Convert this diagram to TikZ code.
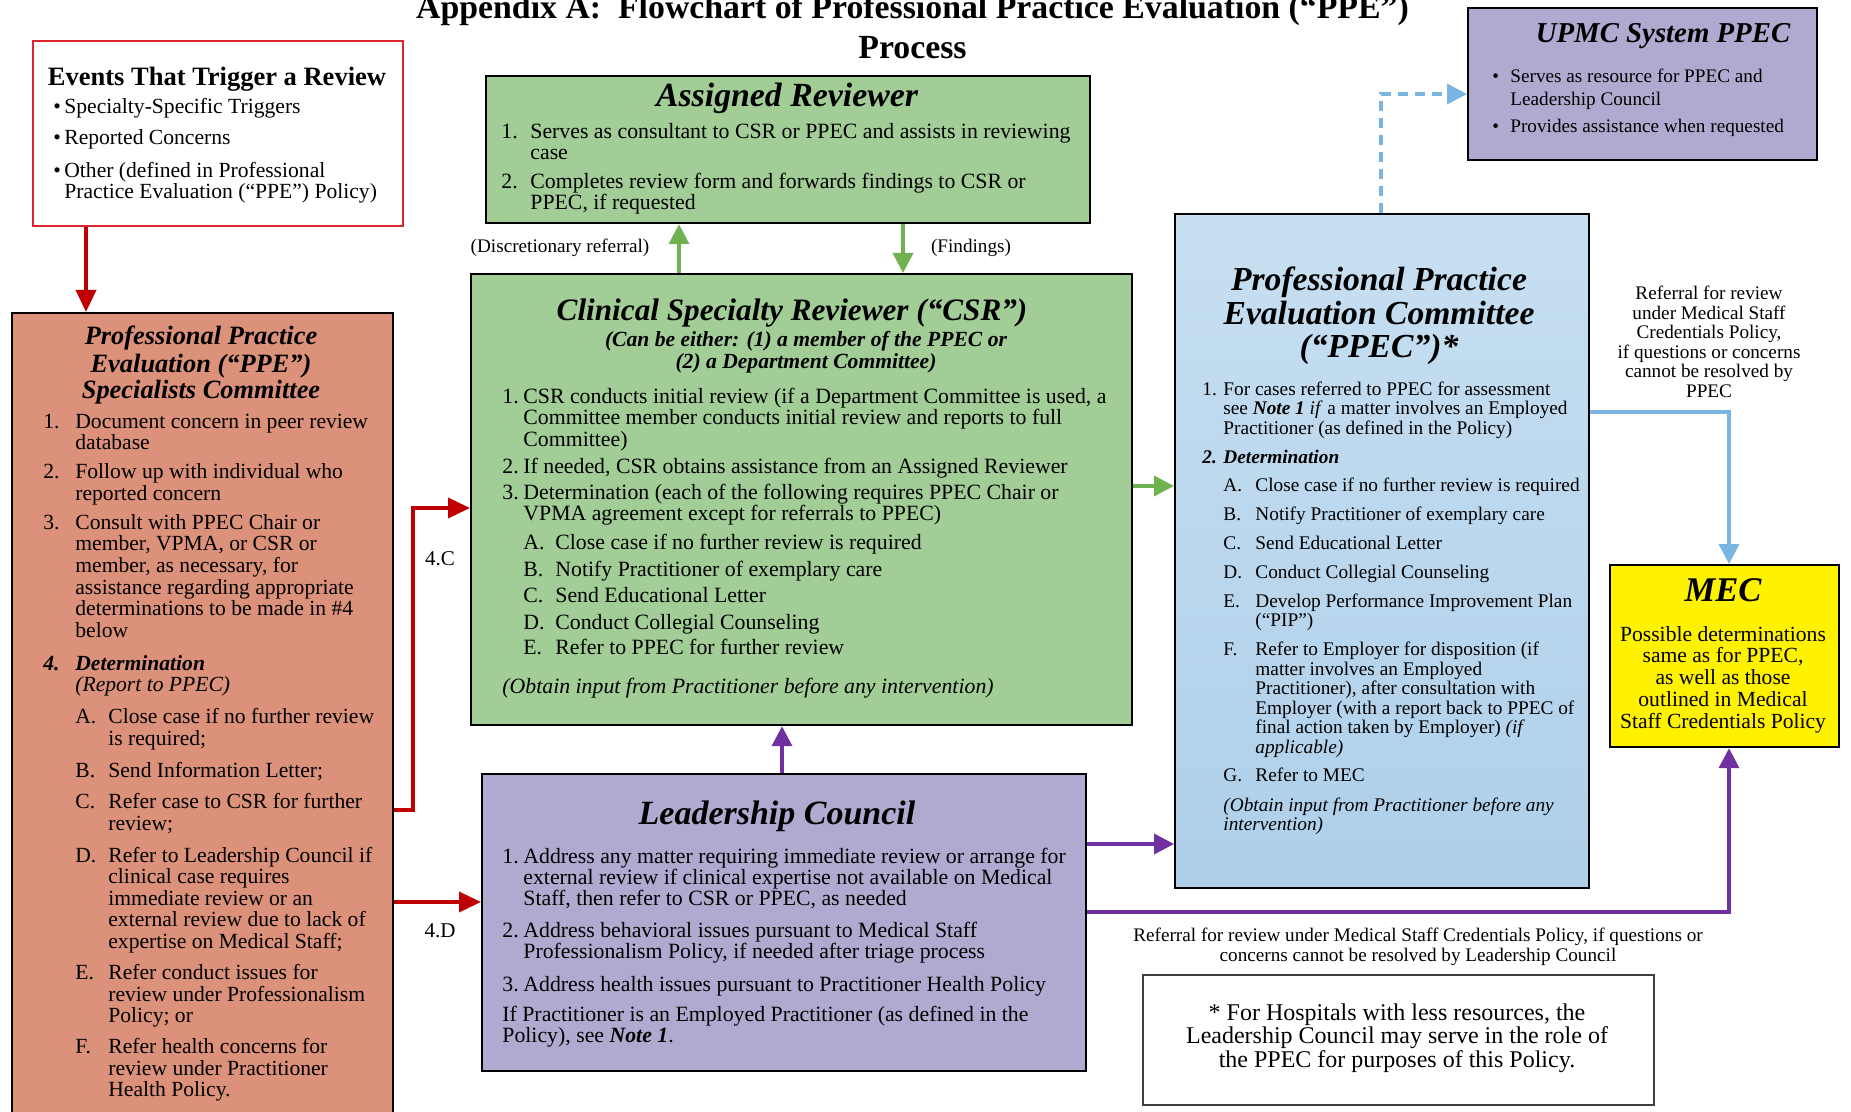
\documentclass[tikz,border=0pt]{standalone}
\usepackage{fontspec}
\setmainfont{Liberation Serif}
\usetikzlibrary{arrows.meta}
\definecolor{salmon}{RGB}{219,145,122}
\definecolor{csrgreen}{RGB}{162,205,151}
\definecolor{lpurple}{RGB}{177,170,208}
\definecolor{bluetop}{RGB}{199,223,241}
\definecolor{bluebot}{RGB}{174,207,234}
\definecolor{myred}{RGB}{192,0,0}
\definecolor{evred}{RGB}{218,38,46}
\definecolor{grn}{RGB}{112,178,80}
\definecolor{purp}{RGB}{112,48,160}
\definecolor{lblue}{RGB}{122,180,224}
\definecolor{notegray}{RGB}{64,64,64}
\newcommand\fsz[2]{\fontsize{#1}{#2}\selectfont}
\newcommand\bitext[1]{\textbf{\textit{#1}}}
\newcommand\Itm[4]{\par\ifx\relax#1\relax\else\vspace{#1}\fi\noindent\hangindent=#2\relax\hangafter=1\relax\makebox[#2][l]{#3}#4\par}
\newcommand\SubItm[5]{{\leftskip=#2\relax\Itm{#1}{#3}{#4}{#5}}}
\newcommand\blk[4]{\parbox[t]{#1}{\fsz{#2}{#3}\lineskiplimit=-20pt\relax#4}}
\newcommand\ctrtext[4]{{\fsz{#1}{#2}#3\begin{tabular}[t]{@{}c@{}}#4\end{tabular}}}
\tikzset{
  box/.style={draw=black, line width=1.1pt, inner sep=0pt, anchor=north west},
  txt/.style={inner sep=0pt, anchor=base west},
  ctr/.style={inner sep=0pt, anchor=base},
  redarr/.style={draw=myred, line width=1.8pt, -{Triangle[length=11pt,width=10pt]}},
  grnarr/.style={draw=grn, line width=1.8pt, -{Triangle[length=10pt,width=10pt]}},
  purarr/.style={draw=purp, line width=1.8pt, -{Triangle[length=10pt,width=10pt]}},
  bluarr/.style={draw=lblue, line width=1.8pt, -{Triangle[length=10pt,width=10pt]}},
}
\begin{document}
\begin{tikzpicture}[x=0.5pt,y=-0.5pt]
\useasboundingbox (0,0) rectangle (1851,1112);
\fill[white] (0,0) rectangle (1851,1112);

% ---------- boxes ----------
\node[box, draw=evred, fill=white, minimum width=185pt, minimum height=92.5pt] (events) at (32,40) {};
\node[box, fill=salmon, minimum width=190.5pt, minimum height=410pt] (ppe) at (11,312) {};
\node[box, fill=csrgreen, minimum width=302pt, minimum height=73.5pt] (assigned) at (485,75) {};
\node[box, fill=csrgreen, minimum width=330.5pt, minimum height=225.5pt] (csr) at (470,273) {};
\node[box, top color=bluetop, bottom color=bluebot, minimum width=207pt, minimum height=337pt] (ppec) at (1174,213) {};
\node[box, fill=lpurple, minimum width=302pt, minimum height=148.5pt] (lc) at (481,773) {};
\node[box, fill=lpurple, minimum width=174.5pt, minimum height=76pt] (upmc) at (1467,7) {};
\node[box, fill=yellow, minimum width=114.5pt, minimum height=91pt] (mec) at (1609,564) {};
\node[box, draw=notegray, fill=white, minimum width=255.5pt, minimum height=65pt] (note) at (1142,974) {};

% ---------- title ----------
\node[ctr] (title) at (912.5,19) {\ctrtext{16.9}{20}{\bfseries}{Appendix A:\ \ Flowchart of Professional Practice Evaluation (“PPE”)\\Process}};

% ---------- events ----------
\node[ctr] (evtitle) at (217,86) {\ctrtext{13.25}{14}{\bfseries}{Events That Trigger a Review}};
\node[txt] (evlist) at (53,114) {\blk{172pt}{10.8}{10.5}{%
\Itm{}{5.5pt}{•}{Specialty-Specific Triggers}
\Itm{5pt}{5.5pt}{•}{Reported Concerns}
\Itm{6pt}{5.5pt}{•}{Other (defined in Professional\\Practice Evaluation (“PPE”) Policy)}}};

% ---------- PPE specialists ----------
\node[ctr] (ppetitle) at (201,345) {\ctrtext{13.2}{13.5}{\bfseries\itshape}{Professional Practice\\Evaluation (“PPE”)\\Specialists Committee}};
\node[txt] (ppelist) at (43,428) {\blk{172pt}{10.8}{10.8}{%
\Itm{}{16pt}{1.}{Document concern in peer review\\database}
\Itm{3.7pt}{16pt}{2.}{Follow up with individual who\\reported concern}
\Itm{3.7pt}{16pt}{3.}{Consult with PPEC Chair or\\member, VPMA, or CSR or\\member, as necessary, for\\assistance regarding appropriate\\determinations to be made in \#4\\below}
\Itm{5.7pt}{16pt}{\bitext{4.}}{\bitext{Determination}\\\textit{(Report to PPEC)}}
\SubItm{5.2pt}{16pt}{16.5pt}{A.}{Close case if no further review\\is required;}
\SubItm{5.2pt}{16pt}{16.5pt}{B.}{Send Information Letter;}
\SubItm{4.7pt}{16pt}{16.5pt}{C.}{Refer case to CSR for further\\review;}
\SubItm{5.2pt}{16pt}{16.5pt}{D.}{Refer to Leadership Council if\\clinical case requires\\immediate review or an\\external review due to lack of\\expertise on Medical Staff;}
\SubItm{4.7pt}{16pt}{16.5pt}{E.}{Refer conduct issues for\\review under Professionalism\\Policy; or}
\SubItm{4.7pt}{16pt}{16.5pt}{F.}{Refer health concerns for\\review under Practitioner\\Health Policy.}}};

% ---------- Assigned reviewer ----------
\node[ctr] (astitle) at (787,107) {\ctrtext{16.9}{18}{\bfseries\itshape}{Assigned Reviewer}};
\node[txt] (aslist) at (501,139) {\blk{291pt}{10.9}{10.5}{%
\Itm{}{14.5pt}{1.}{Serves as consultant to CSR or PPEC and assists in reviewing\\case}
\Itm{4pt}{14.5pt}{2.}{Completes review form and forwards findings to CSR or\\PPEC, if requested}}};

% ---------- CSR ----------
\node[ctr] (csrtitle) at (792,321) {\ctrtext{15.6}{16}{\bfseries\itshape}{Clinical Specialty Reviewer (“CSR”)}};
\node[ctr] (csrsub) at (806,347) {\ctrtext{10.8}{11}{\bfseries\itshape}{(Can be either: (1) a member of the PPEC or\\(2) a Department Committee)}};
\node[txt] (csrlist) at (502,403) {\blk{312pt}{10.9}{10.75}{%
\Itm{}{10.5pt}{1.}{CSR conducts initial review (if a Department Committee is used, a\\Committee member conducts initial review and reports to full\\Committee)}
\Itm{2.75pt}{10.5pt}{2.}{If needed, CSR obtains assistance from an Assigned Reviewer}
\Itm{2.25pt}{10.5pt}{3.}{Determination (each of the following requires PPEC Chair or\\VPMA agreement except for referrals to PPEC)}
\SubItm{3.75pt}{10.5pt}{16pt}{A.}{Close case if no further review is required}
\SubItm{2.75pt}{10.5pt}{16pt}{B.}{Notify Practitioner of exemplary care}
\SubItm{2.25pt}{10.5pt}{16pt}{C.}{Send Educational Letter}
\SubItm{2.75pt}{10.5pt}{16pt}{D.}{Conduct Collegial Counseling}
\SubItm{1.75pt}{10.5pt}{16pt}{E.}{Refer to PPEC for further review}
\par\vspace{8.75pt}\noindent\textit{(Obtain input from Practitioner before any intervention)}\par}};

% ---------- PPEC ----------
\node[ctr] (ppectitle) at (1379,291) {\ctrtext{16.8}{16.5}{\bfseries\itshape}{Professional Practice\\Evaluation Committee\\(“PPEC”)*}};
\node[txt] (ppeclist) at (1202,395) {\blk{194pt}{9.65}{9.75}{%
\Itm{}{10.5pt}{1.}{For cases referred to PPEC for assessment\\see \bitext{Note 1} \textit{if} a matter involves an Employed\\Practitioner (as defined in the Policy)}
\Itm{4.75pt}{10.5pt}{\bitext{2.}}{\bitext{Determination}}
\SubItm{4.25pt}{10.5pt}{16pt}{A.}{Close case if no further review is required}
\SubItm{4.75pt}{10.5pt}{16pt}{B.}{Notify Practitioner of exemplary care}
\SubItm{4.75pt}{10.5pt}{16pt}{C.}{Send Educational Letter}
\SubItm{4.75pt}{10.5pt}{16pt}{D.}{Conduct Collegial Counseling}
\SubItm{4.75pt}{10.5pt}{16pt}{E.}{Develop Performance Improvement Plan\\(“PIP”)}
\SubItm{4.75pt}{10.5pt}{16pt}{F.}{Refer to Employer for disposition (if\\matter involves an Employed\\Practitioner), after consultation with\\Employer (with a report back to PPEC of\\final action taken by Employer) \textit{(if}\\\textit{applicable)}}
\SubItm{4.25pt}{10.5pt}{16pt}{G.}{Refer to MEC}
\par\vspace{5.25pt}{\leftskip=10.5pt\noindent\textit{(Obtain input from Practitioner before any}\\\textit{intervention)}\par}}};

% ---------- Leadership Council ----------
\node[ctr] (lctitle) at (777,824) {\ctrtext{17}{18}{\bfseries\itshape}{Leadership Council}};
\node[txt] (lclist) at (502,863) {\blk{290pt}{10.9}{10.5}{%
\Itm{}{10.5pt}{1.}{Address any matter requiring immediate review or arrange for\\external review if clinical expertise not available on Medical\\Staff, then refer to CSR or PPEC, as needed}
\Itm{5.5pt}{10.5pt}{2.}{Address behavioral issues pursuant to Medical Staff\\Professionalism Policy, if needed after triage process}
\Itm{6pt}{10.5pt}{3.}{Address health issues pursuant to Practitioner Health Policy}
\par\vspace{4.5pt}\noindent If Practitioner is an Employed Practitioner (as defined in the\\Policy), see \bitext{Note 1}.\par}};

% ---------- UPMC ----------
\node[ctr] (upmctitle) at (1663,43) {\ctrtext{14.4}{15}{\bfseries\itshape}{UPMC System PPEC}};
\node[txt] (upmclist) at (1492,83) {\blk{160pt}{9.6}{11.5}{%
\Itm{}{9pt}{•}{Serves as resource for PPEC and\\Leadership Council}
\Itm{2pt}{9pt}{•}{Provides assistance when requested}}};

% ---------- MEC ----------
\node[ctr] (mectitle) at (1723,601) {\ctrtext{17.3}{18}{\bfseries\itshape}{MEC}};
\node[ctr] (mecbody) at (1723,641) {\ctrtext{10.8}{10.9}{}{Possible determinations\\same as for PPEC,\\as well as those\\outlined in Medical\\Staff Credentials Policy}};

% ---------- note ----------
\node[ctr] (notetext) at (1397,1020) {\ctrtext{12}{11.75}{}{* For Hospitals with less resources, the\\Leadership Council may serve in the role of\\the PPEC for purposes of this Policy.}};

% ---------- labels ----------
\node[ctr] (ldisc) at (560,253) {\ctrtext{9.6}{10}{}{(Discretionary referral)}};
\node[ctr] (lfind) at (971,253) {\ctrtext{9.6}{10}{}{(Findings)}};
\node[ctr] (l4c) at (440,565) {\ctrtext{10.5}{11}{}{4.C}};
\node[ctr] (l4d) at (440,937) {\ctrtext{10.5}{11}{}{4.D}};
\node[ctr] (lmec) at (1709,300) {\ctrtext{9.6}{9.7}{}{Referral for review\\under Medical Staff\\Credentials Policy,\\if questions or concerns\\cannot be resolved by\\PPEC}};
\node[ctr] (llc) at (1418,941) {\ctrtext{9.6}{10}{}{Referral for review under Medical Staff Credentials Policy, if questions or\\concerns cannot be resolved by Leadership Council}};

% ---------- connectors ----------
\draw[redarr] (events.south -| 86,0) -- (ppe.north -| 86,0);
\draw[redarr] (ppe.east |- 0,810) -| (413,508) -- (csr.west |- 0,508);
\draw[redarr] (ppe.east |- 0,902) -- (lc.west |- 0,902);
\draw[grnarr] (csr.north -| 679,0) -- (assigned.south -| 679,0);
\draw[grnarr] (assigned.south -| 903,0) -- (csr.north -| 903,0);
\draw[grnarr] (csr.east |- 0,486) -- (ppec.west |- 0,486);
\draw[purarr] (lc.north -| 782,0) -- (csr.south -| 782,0);
\draw[purarr] (lc.east |- 0,844) -- (ppec.west |- 0,844);
\draw[purarr] (lc.east |- 0,912) -| (mec.south -| 1729,0);
\draw[bluarr] (ppec.east |- 0,412) -| (mec.north -| 1729,0);
\draw[bluarr, dash pattern=on 5pt off 3.5pt] (ppec.north -| 1381,0) |- (upmc.west |- 0,94);
\end{tikzpicture}
\end{document}
